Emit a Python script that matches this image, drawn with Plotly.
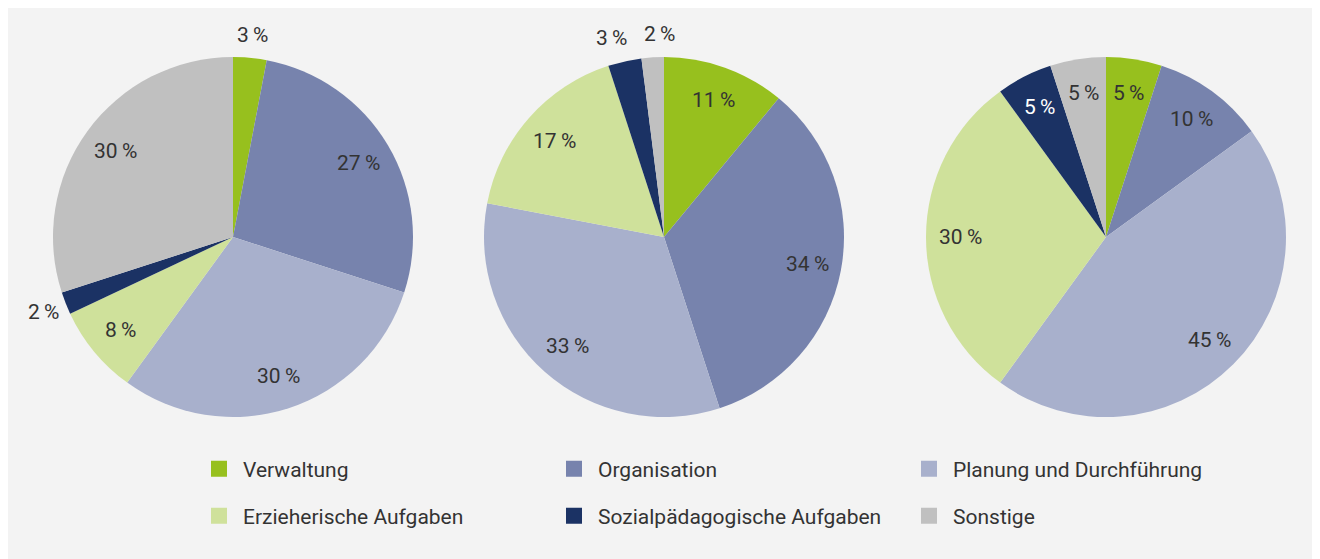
import math
import plotly.graph_objects as go

categories = ["Verwaltung", "Organisation", "Planung und Durchführung",
              "Erzieherische Aufgaben", "Sozialpädagogische Aufgaben", "Sonstige"]
colors = ["#97c01e", "#7783ad", "#a8b0cc", "#cfe19b", "#1b3264", "#c0c0c0"]

values_1 = [3, 27, 30, 8, 2, 30]
values_2 = [11, 34, 33, 17, 3, 2]
values_3 = [5, 10, 45, 30, 5, 5]

# whether the percentage label sits outside the pie
outside_1 = [True, False, False, False, True, False]
outside_2 = [False, False, False, False, True, True]
outside_3 = [False, False, False, False, False, False]

W, H = 1320, 559
FONT = "Roboto"
TXT = "#333333"
label_colors = [TXT, TXT, TXT, TXT, "#ffffff", TXT]

# pie boxes in pixels (left, right) and (top, bottom)
boxes_x = [(45, 405), (476, 836), (918, 1278)]
box_y = (49, 409)
domain_y = [(H - box_y[1]) / H, (H - box_y[0]) / H]
MIN_GAP = 48  # minimum horizontal distance between neighbouring outside labels

fig = go.Figure()
annotations = []
for vals, outs, bx in zip([values_1, values_2, values_3],
                          [outside_1, outside_2, outside_3], boxes_x):
    fig.add_trace(go.Pie(
        labels=categories, values=vals, sort=False, direction="clockwise",
        rotation=0, marker=dict(colors=colors, line=dict(width=0)),
        textinfo="none", domain=dict(x=[bx[0] / W, bx[1] / W], y=domain_y),
        showlegend=False, hoverinfo="label+percent",
    ))
    # labels placed along each slice's mid-angle (derived from the values)
    cx = (bx[0] + bx[1]) / 2
    cy = (box_y[0] + box_y[1]) / 2
    R = (bx[1] - bx[0]) / 2
    total = sum(vals)
    cum = 0
    labels = []
    for v, out, col in zip(vals, outs, label_colors):
        theta = 2 * math.pi * (cum + v / 2) / total
        cum += v
        k = 1.13 if out else 0.81
        labels.append([cx + k * R * math.sin(theta), cy - k * R * math.cos(theta),
                       v, out, col])
    # push apart neighbouring outside labels that would collide
    for a, b in zip(labels, labels[1:]):
        if a[3] and b[3] and abs(b[0] - a[0]) < MIN_GAP and abs(b[1] - a[1]) < 25:
            d = (MIN_GAP - abs(b[0] - a[0])) / 2
            if a[0] <= b[0]:
                a[0] -= d
                b[0] += d
            else:
                a[0] += d
                b[0] -= d
    for px, py, v, out, col in labels:
        annotations.append(dict(
            x=px / W, y=(H - py) / H, xref="paper", yref="paper",
            text=f"{v}\u2009%", showarrow=False, xanchor="center", yanchor="middle",
            font=dict(family=FONT, size=21, color=TXT if out else col),
        ))

# legend entries (two rows of three)
for i, (name, col) in enumerate(zip(categories, colors)):
    fig.add_trace(go.Scatter(
        x=[None], y=[None], mode="markers", name=name,
        marker=dict(symbol="square", size=16, color=col),
        legend="legend" if i < 3 else "legend2", showlegend=True,
    ))

legend_common = dict(orientation="h", xanchor="left", yanchor="middle",
                     entrywidth=302, entrywidthmode="pixels", itemwidth=38,
                     font=dict(family=FONT, size=21, color=TXT),
                     bgcolor="rgba(0,0,0,0)", itemsizing="trace")

fig.update_layout(
    width=W, height=H,
    margin=dict(l=0, r=0, t=0, b=0),
    paper_bgcolor="#f3f3f3", plot_bgcolor="rgba(0,0,0,0)",
    xaxis=dict(visible=False), yaxis=dict(visible=False),
    legend=dict(x=187 / W, y=(H - 461) / H, **legend_common),
    legend2=dict(x=187 / W, y=(H - 508) / H, **legend_common),
    annotations=annotations,
)

fig.write_html("out.html")
